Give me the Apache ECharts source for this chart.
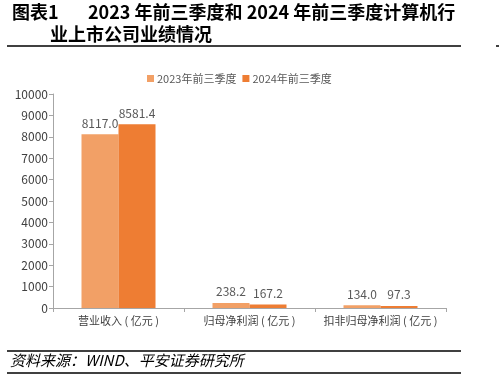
<!DOCTYPE html>
<html>
<head>
<meta charset="utf-8">
<script src="https://cdn.jsdelivr.net/npm/echarts@6/dist/echarts.min.js"></script>
<style>
  html, body { margin: 0; padding: 0; background: #fff; }
  #chart { width: 500px; height: 376px; }
</style>
</head>
<body>
<div id="chart"></div>
<script>
const categories = ['营业收入 ( 亿元 )', '归母净利润 ( 亿元 )', '扣非归母净利润 ( 亿元 )']
const seriesNames = ['2023年前三季度', '2024年前三季度']
const values2023 = [8117.0, 238.2, 134.0]
const values2024 = [8581.4, 167.2, 97.3]
const yTicks = { min: 0, max: 10000, interval: 1000 }

const font = '"Noto Sans CJK SC", "Noto Sans", sans-serif'
const chart = echarts.init(document.getElementById('chart'))

function barSeries(name, data, color) {
  return {
    name: name,
    type: 'bar',
    barWidth: 37,
    barGap: '0%',
    itemStyle: { color: color },
    label: {
      show: true,
      position: 'top',
      distance: 5,
      color: '#595959',
      fontSize: 12,
      fontFamily: font,
      formatter: p => p.value.toFixed(1)
    },
    data: data
  }
}

chart.setOption({
  animation: false,
  textStyle: { fontFamily: font },
  legend: {
    top: 68,
    left: 142,
    itemWidth: 7,
    itemHeight: 7,
    itemGap: 6,
    icon: 'rect',
    textStyle: { fontSize: 11, color: '#595959', padding: [0, 0, 0, -2] },
    data: seriesNames
  },
  grid: { left: 53, right: 54, top: 94, bottom: 68 },
  xAxis: {
    type: 'category',
    data: categories,
    axisLine: { lineStyle: { color: '#A6A6A6' } },
    axisTick: { show: true, length: 4, lineStyle: { color: '#A6A6A6' } },
    axisLabel: { fontSize: 11, color: '#404040', margin: 7, interval: 0 }
  },
  yAxis: {
    type: 'value',
    min: yTicks.min,
    max: yTicks.max,
    interval: yTicks.interval,
    splitLine: { show: false },
    axisLine: { show: true, lineStyle: { color: '#A6A6A6' } },
    axisTick: { show: true, length: 4, lineStyle: { color: '#A6A6A6' } },
    axisLabel: { fontSize: 12, color: '#404040', margin: 5, formatter: v => String(v) }
  },
  series: [
    barSeries(seriesNames[0], values2023, '#F2A066'),
    barSeries(seriesNames[1], values2024, '#EE7D33')
  ],
  graphic: [
    {
      type: 'text', left: 12, top: 3,
      style: { text: '图表1', font: 'bold 18px ' + font, fill: '#000' }
    },
    {
      type: 'text', left: 88, top: 3,
      style: { text: '2023 年前三季度和 2024 年前三季度计算机行', font: 'bold 18px ' + font, fill: '#000' }
    },
    {
      type: 'text', left: 50, top: 25,
      style: { text: '业上市公司业绩情况', font: 'bold 18px ' + font, fill: '#000' }
    },
    {
      type: 'line', shape: { x1: 7, y1: 46, x2: 461, y2: 46 },
      style: { stroke: '#000', lineWidth: 1.5 }
    },
    {
      type: 'line', shape: { x1: 496, y1: 46, x2: 499, y2: 46 },
      style: { stroke: '#000', lineWidth: 1.5 }
    },
    {
      type: 'line', shape: { x1: 7, y1: 351, x2: 461, y2: 351 },
      style: { stroke: '#000', lineWidth: 1.5 }
    },
    {
      type: 'text', left: 10, top: 353,
      style: { text: '资料来源：WIND、平安证券研究所', font: 'italic 15px ' + font, fill: '#000' }
    },
    {
      type: 'line', shape: { x1: 7, y1: 373, x2: 461, y2: 373 },
      style: { stroke: '#000', lineWidth: 1.5 }
    }
  ]
})
</script>
</body>
</html>
